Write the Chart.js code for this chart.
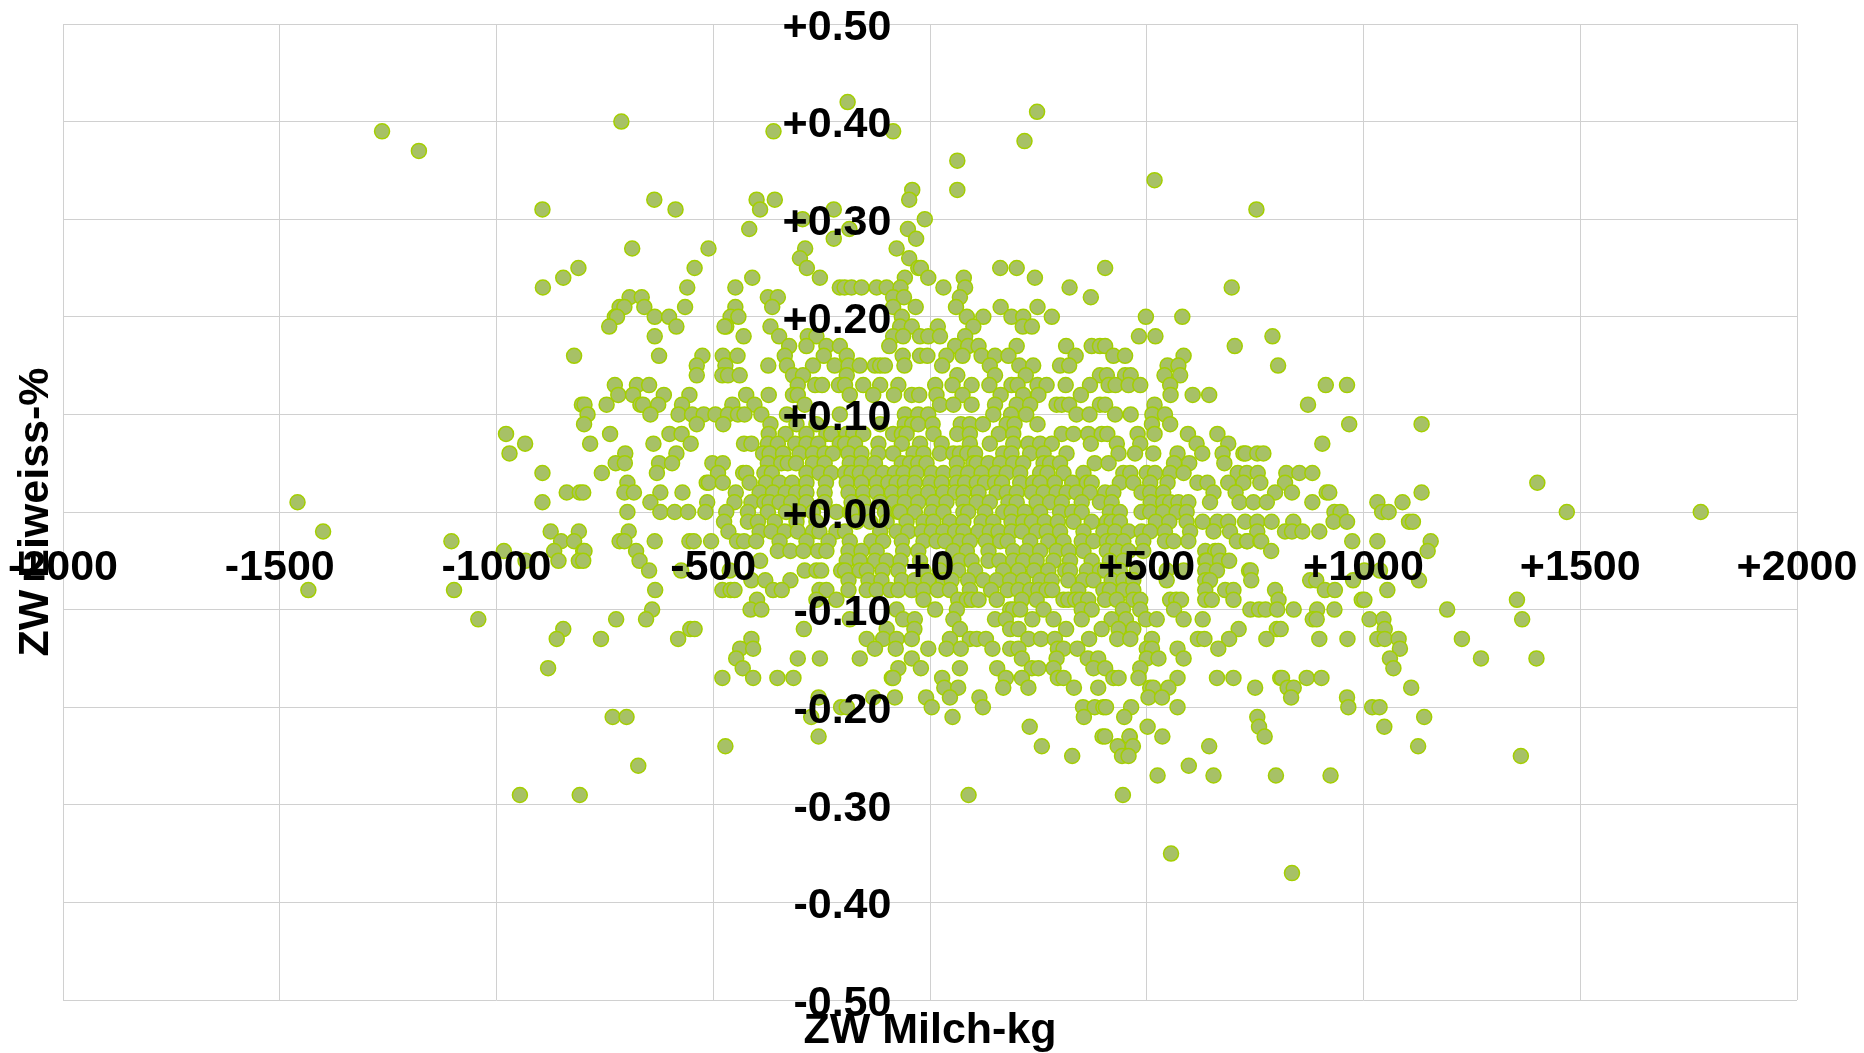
<!DOCTYPE html>
<html><head><meta charset="utf-8"><title>ZW Milch-kg / ZW Eiweiss-%</title>
<style>html,body{margin:0;padding:0;background:#fff}#w{width:1864px;height:1053px;position:relative}</style>
<script src="https://cdn.jsdelivr.net/npm/chart.js@4"></script></head>
<body><div id="w"><canvas id="c"></canvas></div>
<script>
// protein breeding value (ZW Eiweiss-%) levels, and the milk values (ZW Milch-kg) read on each level
const proteinLevels=[.42,.41,.40,.39,.38,.37,.36,.34,.33,.32,.31,.30,.29,.28,.27,.26,.25,.24,.23,.22,.21,.20,.19,.18,.17,.16,.15,.14,.13,.12,.11,.10,.09,.08,.07,.06,.05,.04,.03,.02,.01,0,-.01,-.02,-.03,-.04,-.05,-.06,-.07,-.08,-.09,-.10,-.11,-.12,-.13,-.14,-.15,-.16,-.17,-.18,-.19,-.20,-.21,-.22,-.23,-.24,-.25,-.26,-.27,-.29,-.35,-.37];
const milkByLevel=[
[-190],[247],[-712],[-1264,-361,-85],[218],[-1179],[63],[518],[-41,63],
[-636,-400,-358,-48],[-894,-587,-392,-222,753],[-294,-12],[-417,-186,-51],[-222,-32],
[-687,-511,-288,-77],[-300,-48],[-811,-543,-284,-27,-21,162,200,404],
[-846,-410,-254,-58,-4,78,242],
[-893,-560,-449,-208,-197,-181,-158,-123,-100,-68,31,81,322,696],
[-693,-665,-374,-351,-85,-60,69,371],
[-716,-705,-659,-565,-449,-364,-85,-33,60,163,248],
[-727,-722,-635,-602,-460,-442,-65,85,123,188,215,281,498,582],
[-740,-585,-470,-474,-368,-69,-42,18,100,214,235],
[-635,-430,-348,-282,-262,-85,-62,-23,-4,23,81,482,520,790],
[-325,-285,-239,-208,-94,58,88,112,200,314,373,392,404,703],
[-821,-625,-525,-478,-444,-335,-245,-192,-63,-23,-6,38,75,119,150,181,336,423,450,585],
[-538,-472,-373,-330,-270,-220,-188,-162,-127,-115,-104,-59,28,138,206,238,300,321,548,573,803],
[-538,-479,-466,-439,-316,-293,-192,63,150,221,392,408,450,463,541,577],
[-727,-676,-648,-305,-265,-249,-210,-196,-154,-115,-73,12,52,96,137,188,202,248,269,313,369,412,428,458,485,554,913,962],
[-719,-685,-614,-555,-424,-372,-316,-305,-185,-131,-83,-42,-25,15,75,163,215,250,348,555,606,644],
[-803,-797,-746,-668,-662,-627,-572,-456,-405,-289,23,54,96,150,200,231,292,304,321,392,404,518,872],
[-790,-645,-580,-549,-522,-495,-466,-443,-428,-389,-330,-208,-58,-27,-4,146,187,222,338,368,427,463,513,542],
[-798,-538,-477,-368,-308,-262,-115,-58,-41,-27,6,71,92,122,177,195,248,512,554,967,1134],
[-978,-738,-601,-573,-372,-333,-285,-239,-228,-192,-177,-154,-85,-65,-54,8,63,92,159,192,304,331,365,396,409,479,518,595,663],
[-934,-784,-638,-552,-429,-412,-374,-351,-311,-285,-258,-208,-196,-173,-119,-65,-23,27,92,138,192,227,254,281,371,431,485,615,688,905],
[-970,-703,-585,-385,-370,-339,-301,-270,-243,-224,-188,-158,-119,-85,-38,-15,23,54,69,86,104,169,188,231,262,315,435,473,515,571,628,675,723,728,755,769],
[-725,-704,-625,-595,-502,-478,-374,-343,-328,-309,-270,-243,-185,-158,-127,-65,-46,-27,-8,62,100,108,135,162,192,215,262,277,300,380,412,563,598,679],
[-894,-757,-630,-489,-431,-424,-382,-365,-285,-255,-228,-196,-181,-162,-138,-108,-81,-61,-31,4,31,62,88,119,152,177,208,254,271,308,354,446,462,500,519,554,585,710,731,756,822,852,882],
[-698,-515,-510,-478,-416,-378,-347,-318,-285,-240,-192,-158,-123,-96,-77,-58,-35,0,27,62,81,108,127,150,166,208,238,254,288,328,362,373,438,469,508,548,617,640,688,723,762,819,1401],
[-838,-808,-800,-705,-683,-622,-571,-448,-393,-362,-333,-309,-285,-243,-188,-154,-123,-88,-58,-35,-4,31,58,77,112,154,177,200,235,262,292,315,338,369,404,423,488,508,538,654,705,796,835,915,921,1134],
[-1459,-894,-645,-514,-451,-412,-382,-370,-347,-320,-285,-243,-181,-154,-115,-85,-58,-27,8,38,77,108,138,181,200,246,277,304,350,392,419,509,538,554,573,596,646,714,746,777,882,1032,1090],
[-698,-622,-589,-558,-518,-470,-420,-374,-332,-301,-270,-216,-185,-181,-146,-104,-73,-69,-35,4,31,77,88,127,169,188,219,254,300,328,350,415,438,488,508,538,569,592,933,947,1043,1058,1469,1778],
[-475,-420,-397,-358,-308,-262,-169,-138,-100,-54,-15,8,46,77,119,146,188,215,235,265,295,331,373,408,419,438,521,552,592,629,663,688,727,755,788,838,931,962,1105,1114],
[-1400,-875,-810,-695,-465,-393,-366,-335,-305,-270,-255,-216,-196,-115,-77,-50,-19,4,31,58,77,112,138,158,188,212,246,269,300,354,400,427,458,488,508,542,600,654,692,755,819,835,859,898],
[-1104,-851,-821,-716,-705,-635,-555,-545,-505,-445,-429,-401,-347,-285,-234,-185,-135,-108,-65,-15,15,35,69,92,129,162,179,231,273,308,350,377,408,423,446,492,542,562,596,708,731,732,762,764,974,1032,1155],
[-983,-867,-800,-797,-678,-351,-322,-292,-258,-239,-188,-158,-123,-62,-27,54,85,135,192,223,254,292,320,354,408,431,458,492,635,658,665,787,1148],
[-933,-857,-810,-800,-670,-392,-192,-162,-127,-100,-68,-23,31,68,96,135,160,192,215,246,285,323,373,415,446,635,638,669,690],
[-648,-574,-462,-289,-262,-251,-205,-196,-162,-146,-109,-73,-15,23,65,104,169,204,240,273,312,323,362,392,404,438,477,546,585,635,662,736,740,1002,1038],
[-412,-380,-322,-188,-142,-112,-65,-35,-4,31,50,88,123,154,185,215,254,281,319,354,377,419,446,469,546,635,646,741,877,891,976,1128],
[-1434,-1098,-634,-479,-460,-451,-362,-342,-255,-239,-188,-146,-123,-92,-73,-42,-15,18,46,92,141,179,204,231,250,269,282,342,400,415,446,469,635,681,700,796,911,934,1055],
[-399,-262,-216,-15,65,85,96,112,154,212,246,308,319,335,346,365,404,431,469,485,554,568,579,635,650,700,804,996,1002,1354],
[-641,-414,-389,-77,12,62,185,192,208,262,350,373,445,485,563,739,759,774,801,839,893,933,1193],
[-1042,-724,-655,-185,-62,-35,54,150,175,236,285,350,419,452,498,523,585,629,883,892,1014,1046,1366],
[-846,-553,-543,-291,-100,-36,69,185,204,314,396,435,469,712,800,809,1049],
[-861,-759,-581,-412,-146,-108,-77,-42,46,92,108,129,227,256,288,367,432,462,512,618,633,690,776,898,963,1032,1049,1081,1227],
[-438,-408,-127,-79,-4,38,71,144,185,204,295,308,340,500,512,571,665,1084],
[-447,-305,-254,-162,-42,212,292,364,388,500,527,585,1061,1271,1399],
[-881,-432,-73,-21,69,155,235,250,285,377,404,485,1069],
[-479,-408,-352,-315,-88,-85,28,175,212,295,308,423,435,481,571,662,700,808,812,869,903],
[33,65,169,227,332,388,508,515,550,750,825,839,1110],
[-257,-131,-81,-9,46,114,504,535,833,962],
[-205,-192,4,122,353,380,400,406,464,571,965,1020,1037],
[-732,-700,-274,52,355,448,755,1140],
[230,502,759,1048],
[-257,398,404,461,536,460,772],
[-472,258,433,468,644,1126],
[328,443,458,1363],
[-673,597],[525,654,798,924],[-946,-808,89,445],[556],[835]
];
const milkTicks=[-2000,-1500,-1000,-500,0,500,1000,1500,2000];
const points=[];
proteinLevels.forEach((p,i)=>milkByLevel[i].forEach(m=>points.push({x:m,y:p})));
const tickFont={family:'"Liberation Sans",Arial,sans-serif',size:43,weight:'bold',lineHeight:1.2};
const titleFont={family:'"Liberation Sans",Arial,sans-serif',size:43,weight:'bold',lineHeight:1};
const noOverhang=s=>{s.paddingTop=s.paddingBottom=s.paddingLeft=s.paddingRight=0;};
new Chart(document.getElementById('c'),{
 type:'scatter',
 data:{datasets:[{label:'ZW',data:points,pointRadius:7.5,pointHoverRadius:7.5,pointBorderWidth:1.5,pointBackgroundColor:'#a7c166',pointBorderColor:'#a4cf00'}]},
 options:{
  responsive:true,maintainAspectRatio:false,animation:false,
  layout:{padding:{top:24,right:67,bottom:0,left:15}},
  plugins:{legend:{display:false},tooltip:{enabled:false},
   title:{display:true,text:'ZW Milch-kg',position:'bottom',fullSize:false,color:'#000',font:titleFont,padding:{top:10,bottom:0}},
   subtitle:{display:true,text:'ZW Eiweiss-%',position:'left',fullSize:false,color:'#000',font:titleFont,padding:{top:0,bottom:5}}},
  scales:{
   x:{type:'linear',position:{y:0},min:-2000,max:2000,afterFit:noOverhang,
    afterBuildTicks:s=>{s.ticks=milkTicks.map(v=>({value:v}));},
    grid:{color:'#d0d0d0',lineWidth:1,drawTicks:false},border:{display:false},
    ticks:{z:1,color:'#000',font:tickFont,padding:30,maxRotation:0,autoSkip:false,callback:v=>(v>=0?'+':'')+v}},
   y:{type:'linear',position:{x:-89},min:-.5,max:.5,afterFit:noOverhang,
    grid:{color:'#d0d0d0',lineWidth:1,drawTicks:false},border:{display:false},
    ticks:{z:1,color:'#000',font:tickFont,labelOffset:4,stepSize:.1,autoSkip:false,callback:v=>(v>-1e-9?'+':'-')+Math.abs(v).toFixed(2)}}
  }
 }
});
</script></body></html>
